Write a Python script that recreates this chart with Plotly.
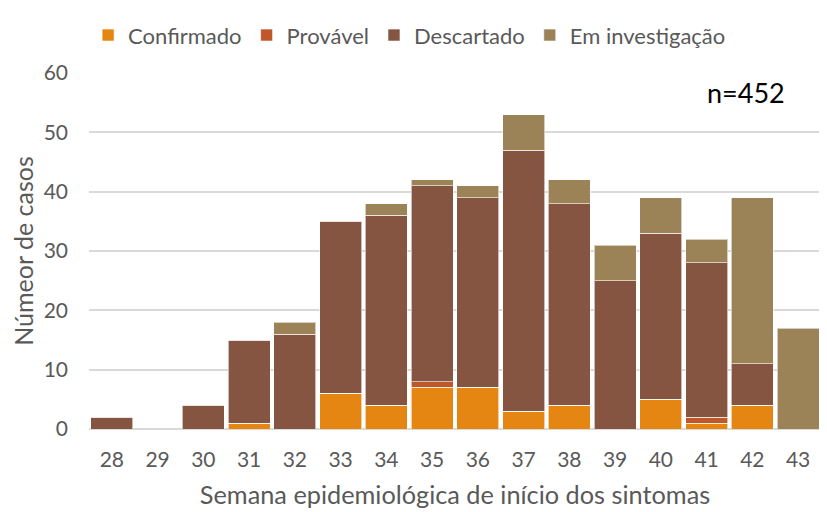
import plotly.graph_objects as go

weeks = ["28", "29", "30", "31", "32", "33", "34", "35", "36", "37", "38", "39", "40", "41", "42", "43"]
confirmado = [0, 0, 0, 1, 0, 6, 4, 7, 7, 3, 4, 0, 5, 1, 4, 0]
provavel = [0, 0, 0, 0, 0, 0, 0, 1, 0, 0, 0, 0, 0, 1, 0, 0]
descartado = [2, 0, 4, 14, 16, 29, 32, 33, 32, 44, 34, 25, 28, 26, 7, 0]
investigacao = [0, 0, 0, 0, 2, 0, 2, 1, 2, 6, 4, 6, 6, 4, 28, 17]

series = [
    ("Confirmado", confirmado, "#E58612"),
    ("Provável", provavel, "#C0572B"),
    ("Descartado", descartado, "#855541"),
    ("Em investigação", investigacao, "#9C8257"),
]

fig = go.Figure()
for name, vals, color in series:
    fig.add_trace(go.Bar(
        x=weeks, y=vals, name=name,
        marker=dict(color=color, line=dict(color="rgba(255,255,255,0.6)", width=1)),
    ))

font_family = "Lato, Open Sans, sans-serif"
fig.update_layout(
    barmode="stack",
    bargap=0.08,
    width=819, height=504,
    paper_bgcolor="white", plot_bgcolor="white",
    margin=dict(l=81, r=6, t=65, b=83),
    font=dict(family=font_family, color="#595959"),
    legend=dict(orientation="h", x=0.438, xanchor="center", y=1.165, yanchor="top",
                font=dict(size=22, color="#595959"), traceorder="normal",
                itemwidth=30),
    xaxis=dict(
        type="category", range=[-0.5, 15.5], automargin=False,
        tickfont=dict(size=21, color="#595959"),
        ticklabelstandoff=16,
        title=dict(text="Semana epidemiológica de início dos sintomas", font=dict(size=25.3, color="#595959"), standoff=16),
        showline=False, ticks="",
    ),
    yaxis=dict(
        range=[0, 60], dtick=10, automargin=False,
        tickfont=dict(size=21, color="#595959"),
        ticklabelstandoff=20,
        title=dict(text="Númeor de casos", font=dict(size=25, color="#595959"), standoff=22),
        gridcolor="#d9d9d9", gridwidth=1.5,
        zeroline=True, zerolinecolor="#d9d9d9", zerolinewidth=1.5,
        ticks="",
    ),
    annotations=[dict(text="n=452", x=0.8975, y=0.944, xref="paper", yref="paper",
                      xanchor="center", yanchor="middle",
                      showarrow=False, font=dict(size=27, color="black", family=font_family))],
)

fig.write_html("out.html")
